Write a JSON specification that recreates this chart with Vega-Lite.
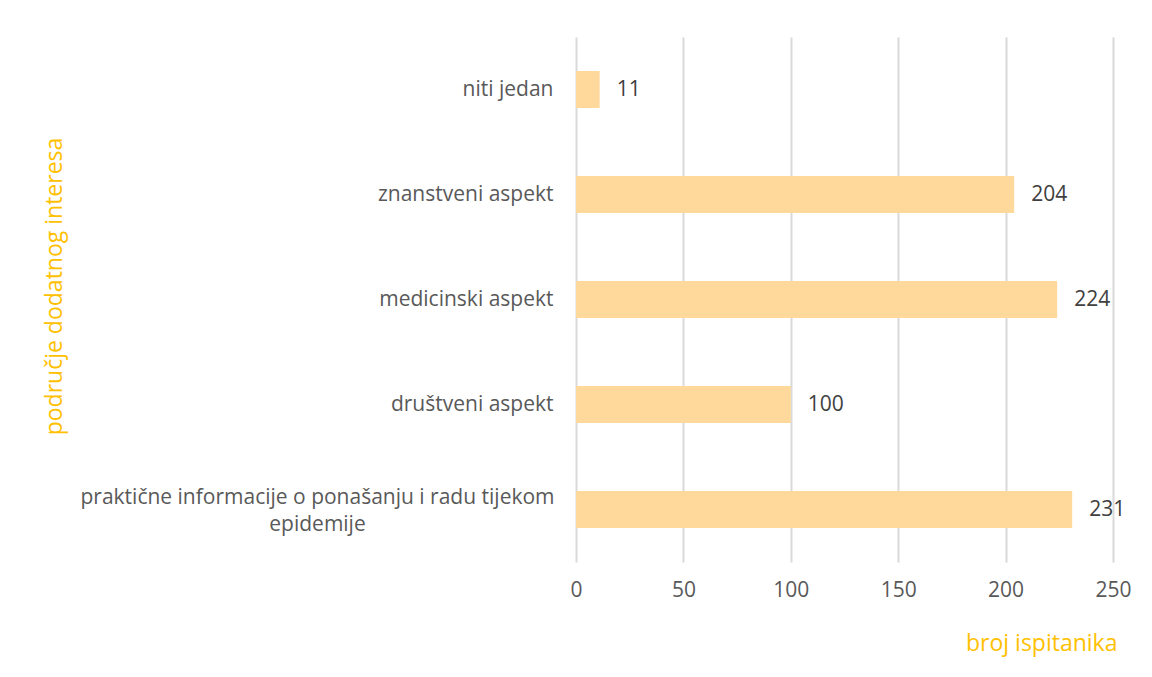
{
  "$schema": "https://vega.github.io/schema/vega-lite/v6.json",
  "autosize": "none",
  "width": 537,
  "height": 525,
  "padding": {"left": 576, "top": 37, "right": 39, "bottom": 115},
  "background": "white",
  "config": {
    "view": {"stroke": null},
    "font": "Open Sans",
    "axis": {"labelFont": "Open Sans", "titleFont": "Open Sans"}
  },
  "data": {
    "values": [
      {"podrucje": "niti jedan", "broj": 11},
      {"podrucje": "znanstveni aspekt", "broj": 204},
      {"podrucje": "medicinski aspekt", "broj": 224},
      {"podrucje": "društveni aspekt", "broj": 100},
      {"podrucje": "praktične informacije o ponašanju i radu tijekom epidemije", "broj": 231}
    ]
  },
  "encoding": {
    "y": {
      "field": "podrucje",
      "type": "nominal",
      "sort": ["niti jedan", "znanstveni aspekt", "medicinski aspekt", "društveni aspekt", "praktične informacije o ponašanju i radu tijekom epidemije"],
      "scale": {"paddingInner": 0.648, "paddingOuter": 0.324},
      "axis": {
        "title": "područje dodatnog interesa",
        "titleColor": "#FFC000",
        "titleFontSize": 23,
        "titleFontWeight": "normal",
        "titleAngle": -90,
        "titleAlign": "center",
        "titleBaseline": "top",
        "titleX": -533,
        "titleY": 249,
        "labelFontSize": 21,
        "labelColor": "#595959",
        "labelPadding": {"condition": {"test": "datum.value == 'praktične informacije o ponašanju i radu tijekom epidemije'", "value": 259}, "value": 23},
        "labelAlign": {"condition": {"test": "datum.value == 'praktične informacije o ponašanju i radu tijekom epidemije'", "value": "center"}, "value": "right"},
        "labelOffset": {"condition": {"test": "datum.value == 'praktične informacije o ponašanju i radu tijekom epidemije'", "value": -12}, "value": 0},
        "labelLimit": 0,
        "labelLineHeight": 27,
        "labelExpr": "datum.value == 'praktične informacije o ponašanju i radu tijekom epidemije' ? ['praktične informacije o ponašanju i radu tijekom', 'epidemije'] : datum.value",
        "domain": false,
        "ticks": false,
        "grid": false
      }
    },
    "x": {
      "field": "broj",
      "type": "quantitative",
      "scale": {"domain": [0, 250], "nice": false},
      "axis": {
        "title": "broj ispitanika",
        "titleColor": "#FFC000",
        "titleFontSize": 23,
        "titleFontWeight": "normal",
        "titleAnchor": "end",
        "titleAlign": "right",
        "titleX": 541,
        "titleY": 81,
        "titleBaseline": "middle",
        "values": [0, 50, 100, 150, 200, 250],
        "labelFontSize": 21,
        "labelColor": "#595959",
        "labelPadding": 17,
        "labelFlush": false,
        "domain": false,
        "ticks": false,
        "grid": true,
        "gridColor": "#D9D9D9",
        "gridWidth": 2
      }
    }
  },
  "layer": [
    {"mark": {"type": "bar", "color": "#FFD89B"}},
    {
      "mark": {"type": "text", "align": "left", "baseline": "middle", "dx": 17, "fontSize": 21, "color": "#404040", "font": "Open Sans"},
      "encoding": {"text": {"field": "broj", "type": "quantitative"}}
    }
  ]
}
